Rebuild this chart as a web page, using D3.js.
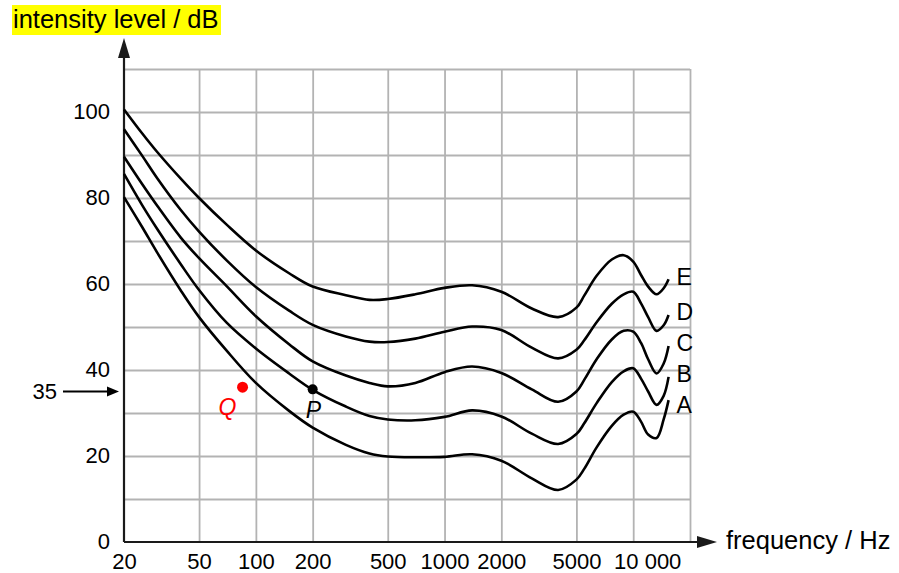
<!DOCTYPE html>
<html>
<head>
<meta charset="utf-8">
<script src="https://cdn.jsdelivr.net/npm/d3@7"></script>
<style>
	body { margin: 0; background: #fff; }
	text { font-family: 'Liberation Sans', Arial, sans-serif; }
</style>
</head>
<body>
<div class="svg-container"></div>
<script>
const w = 899;
const h = 573;

const freqs = [20, 25, 30, 40, 50, 70, 100, 150, 200, 300, 400, 500, 700, 1000, 1400, 2000, 2900, 4000, 5000, 5500, 6400, 7700, 8900, 10000, 11000, 12000, 13300, 14500, 15400];

const curveNames = ['E', 'D', 'C', 'B', 'A'];
const levelsE = [100.6, 95, 90.7, 84.5, 80, 73.8, 67.8, 62.5, 59.4, 57.4, 56.3, 56.5, 57.6, 59.1, 59.7, 58.2, 54.3, 52.3, 54.5, 57.3, 61.9, 65.7, 66.7, 65.2, 62.1, 59.4, 57.6, 59, 61.1];
const levelsD = [96, 89.8, 84.6, 77.2, 72.2, 65.5, 59.3, 53.8, 50.5, 47.8, 46.6, 46.5, 47.3, 48.9, 50.1, 49.3, 45.2, 42.7, 44.7, 46.9, 51.1, 55.4, 57.6, 58.2, 55.5, 52.3, 49.1, 50.4, 52.8];
const levelsC = [89.6, 83.2, 78.2, 70.8, 66, 59.5, 52.5, 46, 42, 38.7, 37, 36.2, 37, 39.5, 40.8, 39.3, 35.5, 32.6, 35, 37.7, 42.5, 47.1, 49.1, 48.9, 46.3, 42.5, 39.2, 41.5, 45.6];
const levelsB = [85.6, 78.3, 72.8, 64.6, 58.6, 51, 45, 39.2, 35.4, 31.5, 29.3, 28.5, 28.3, 29.1, 30.6, 29.2, 25.2, 22.8, 25.1, 27.6, 32.3, 37.2, 39.7, 40.4, 38, 35, 31.9, 34, 38.4];
const levelsA = [80.2, 73.2, 67.3, 58.5, 52.3, 44.5, 37, 30.5, 26.6, 22.6, 20.6, 19.9, 19.7, 19.8, 20.4, 18.9, 14.8, 12.1, 14.5, 17, 22, 27, 29.6, 30.3, 28, 25, 24.2, 28.5, 33];
const curveLevels = [levelsE, levelsD, levelsC, levelsB, levelsA];

const xTicks = [20, 50, 100, 200, 500, 1000, 2000, 5000, 10000];
const xLabels = ['20', '50', '100', '200', '500', '1000', '2000', '5000', '10 000'];
const xGrid = [50, 100, 200, 500, 1000, 2000, 5000, 10000, 20000];
const yTicks = [0, 20, 40, 60, 80, 100];
const yGrid = [10, 20, 30, 40, 50, 60, 70, 80, 90, 100, 110];

// marked points
const pointP = { f: 200, level: 35.5 };
const pointQ = { f: 85, level: 36 };
const markedLevel = 35;

const xScale = d3.scaleLog().domain([20, 20000]).range([124, 690]);
const yScale = d3.scaleLinear().domain([0, 110]).range([542, 69]);

const svg = d3
	.select('.svg-container')
	.append('svg')
	.attr('width', w)
	.attr('height', h)
	.style('background-color', '#fff');

const gridColor = '#b3b3b3';

// grid
svg
	.append('g')
	.attr('transform', `translate(${xScale(20)}, 0)`)
	.call(d3.axisLeft(yScale).tickValues(yGrid).tickSize(-(xScale(20000) - xScale(20))).tickFormat(''))
	.call(g => g.select('.domain').remove())
	.call(g => g.selectAll('line').attr('stroke', gridColor).attr('stroke-width', 1.8));

svg
	.append('g')
	.attr('transform', `translate(0, ${yScale(0)})`)
	.call(d3.axisBottom(xScale).tickValues(xGrid).tickSize(-(yScale(0) - yScale(110))).tickFormat(''))
	.call(g => g.select('.domain').remove())
	.call(g => g.selectAll('line').attr('stroke', gridColor).attr('stroke-width', 1.8));

// tick labels
svg
	.append('g')
	.attr('transform', `translate(${xScale(20)}, 0)`)
	.call(d3.axisLeft(yScale).tickValues(yTicks).tickSize(0).tickPadding(14))
	.call(g => g.select('.domain').remove())
	.call(g => g.selectAll('text').attr('font-family', null).style('font-size', '22px').attr('fill', '#000').attr('dy', '0.28em'));

svg
	.append('g')
	.attr('transform', `translate(0, ${yScale(0)})`)
	.call(d3.axisBottom(xScale).tickValues(xTicks).tickSize(0).tickPadding(11).tickFormat((d, i) => xLabels[i]))
	.call(g => g.select('.domain').remove())
	.call(g =>
		g
			.selectAll('text')
			.attr('font-family', null)
			.style('font-size', '22px')
			.attr('fill', '#000')
			.attr('dx', (d, i) => (i === xTicks.length - 1 ? 14 : 0))
	);

// axes with arrows
const axisColor = '#1a1a1a';
const x0 = xScale(20);
const y0 = yScale(0);
const yTip = yScale(110) - 31;
const xTip = xScale(20000) + 27;

svg.append('line').attr('x1', x0).attr('y1', y0).attr('x2', x0).attr('y2', yTip + 10)
	.attr('stroke', axisColor).attr('stroke-width', 2.2);
svg.append('path').attr('d', `M${x0},${yTip} L${x0 - 6},${yTip + 20} L${x0 + 6},${yTip + 20} Z`).attr('fill', axisColor);

svg.append('line').attr('x1', x0).attr('y1', y0).attr('x2', xTip - 10).attr('y2', y0)
	.attr('stroke', axisColor).attr('stroke-width', 2.2);
svg.append('path').attr('d', `M${xTip},${y0} L${xTip - 20},${y0 - 6} L${xTip - 20},${y0 + 6} Z`).attr('fill', axisColor);

// axis titles
const yTitle = svg.append('g');
yTitle.append('rect').attr('x', 12).attr('y', 5).attr('width', 209).attr('height', 30).attr('fill', '#ffff00');
yTitle.append('text').attr('x', 13).attr('y', 28).style('font-size', '25.5px').text('intensity level / dB');

svg
	.append('text')
	.attr('x', xTip + 9)
	.attr('y', y0 + 7)
	.style('font-size', '25.5px')
	.text('frequency / Hz');

// the curves
const line = d3
	.line()
	.x((d, i) => xScale(freqs[i]))
	.y(d => yScale(d))
	.curve(d3.curveCatmullRom.alpha(0.5));

svg
	.selectAll('.curve')
	.data(curveLevels)
	.enter()
	.append('path')
	.attr('class', 'curve')
	.attr('d', line)
	.attr('fill', 'none')
	.attr('stroke', '#000')
	.attr('stroke-width', 2.6);

// curve labels, nudged apart so they don't overlap
let prevY = -Infinity;
curveNames.forEach((name, i) => {
	const levels = curveLevels[i];
	const yl = Math.max(yScale(levels[levels.length - 1]) - 3, prevY + 31);
	prevY = yl;
	svg
		.append('text')
		.attr('x', xScale(freqs[freqs.length - 1]) + 8)
		.attr('y', yl)
		.attr('dy', '0.36em')
		.style('font-size', '23px')
		.text(name);
});

// 35 dB marker
const yMark = yScale(markedLevel);
svg.append('text').attr('x', 57).attr('y', yMark).attr('dy', '0.36em').style('text-anchor', 'end').style('font-size', '22px').text(markedLevel);
svg.append('line').attr('x1', 63).attr('y1', yMark).attr('x2', x0 - 12).attr('y2', yMark).attr('stroke', '#000').attr('stroke-width', 2);
svg.append('path').attr('d', `M${x0 - 5},${yMark} L${x0 - 17},${yMark - 5} L${x0 - 17},${yMark + 5} Z`).attr('fill', '#000');

// points P and Q
svg.append('circle').attr('cx', xScale(pointP.f)).attr('cy', yScale(pointP.level)).attr('r', 5).attr('fill', '#000');
svg
	.append('text')
	.attr('x', xScale(pointP.f) - 7)
	.attr('y', yScale(pointP.level) + 29)
	.style('font-size', '23px')
	.style('font-style', 'italic')
	.text('P');

svg.append('circle').attr('cx', xScale(pointQ.f)).attr('cy', yScale(pointQ.level)).attr('r', 5.5).attr('fill', '#ff0000');
svg
	.append('text')
	.attr('x', xScale(pointQ.f) - 24)
	.attr('y', yScale(pointQ.level) + 28)
	.style('font-size', '23px')
	.style('font-style', 'italic')
	.attr('fill', '#ff0000')
	.text('Q');
</script>
</body>
</html>
